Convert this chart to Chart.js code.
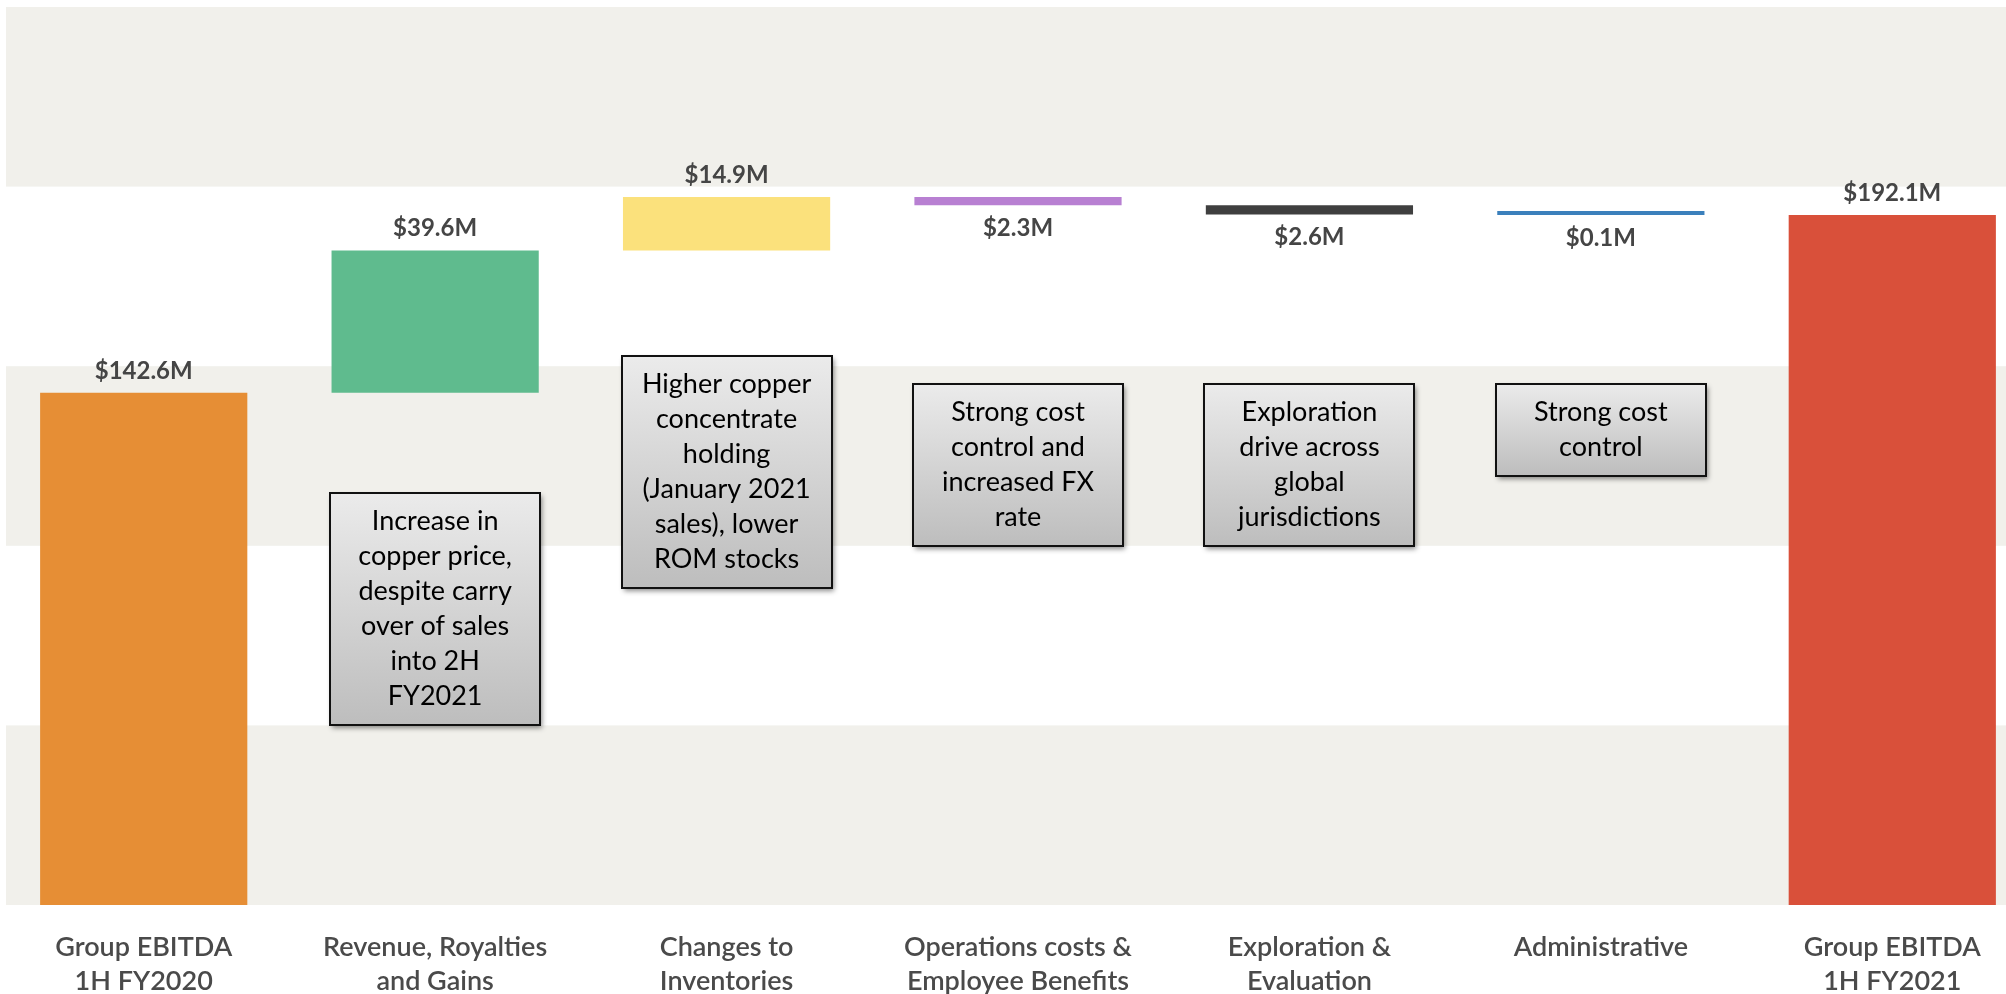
<!DOCTYPE html>
<html><head><meta charset="utf-8">
<script src="https://cdn.jsdelivr.net/npm/chart.js@4.4.0/dist/chart.umd.min.js"></script>
<style>
html,body{margin:0;padding:0;background:#fff;overflow:hidden;width:2006px;height:994px;}
#wrap{position:absolute;left:-2px;top:0;width:2040px;height:994px;}
</style></head><body>
<div id="wrap"><canvas id="c"></canvas></div>
<script>
// ---- data ----
const categories = [
  ["Group EBITDA", "1H FY2020"],
  ["Revenue, Royalties", "and Gains"],
  ["Changes to", "Inventories"],
  ["Operations costs &", "Employee Benefits"],
  ["Exploration &", "Evaluation"],
  ["Administrative"],
  ["Group EBITDA", "1H FY2021"]
];
const openingValue = 142.6;
const changes = [39.6, 14.9, -2.3, -2.6, -0.1];
const closingValue = 192.1;
const yTicks = [0, 50, 100, 150, 200, 250];

const noteTexts = [
  null,
  ["Increase in", "copper price,", "despite carry", "over of sales", "into 2H", "FY2021"],
  ["Higher copper", "concentrate", "holding", "(January 2021", "sales), lower", "ROM stocks"],
  ["Strong cost", "control and", "increased FX", "rate"],
  ["Exploration", "drive across", "global", "jurisdictions"],
  ["Strong cost", "control"],
  null
];

// ---- styles / layout ----
const barColors = ["#E68E35", "#5FBB8E", "#FBE17C", "#B880D2", "#3F3F3F", "#3B80BC", "#D9503A"];
const noteTopValue = [null, 114.7, 152.8, 145, 145, 145, null];
const bandColor = "#F1F0EB";

// floating ranges built from the values
const amounts = [openingValue, ...changes, closingValue];
const ranges = [];
let running = openingValue;
ranges.push([0, openingValue]);
changes.forEach(c => { ranges.push([running, running + c]); running += c; });
ranges.push([0, closingValue]);

const bandsPlugin = {
  id: 'bands',
  beforeDraw(chart) {
    const {ctx, scales: {y}} = chart;
    ctx.save();
    ctx.fillStyle = bandColor;
    for (let i = 0; i + 1 < yTicks.length; i += 2) {
      const y0 = y.getPixelForValue(yTicks[i]);
      const y1 = y.getPixelForValue(yTicks[i + 1]);
      ctx.fillRect(8, y1, chart.width - 8, y0 - y1);
    }
    ctx.restore();
  }
};

const labelsPlugin = {
  id: 'valueLabels',
  afterDatasetsDraw(chart) {
    const {ctx} = chart;
    const meta = chart.getDatasetMeta(0);
    ctx.save();
    ctx.font = '700 24px Lato';
    ctx.fillStyle = '#454545';
    ctx.textAlign = 'center';
    ctx.textBaseline = 'middle';
    meta.data.forEach((bar, i) => {
      const v = amounts[i];
      const top = Math.min(bar.y, bar.base);
      const bottom = Math.max(bar.y, bar.base);
      const txt = '$' + Math.abs(v).toFixed(1) + 'M';
      if (v >= 0) ctx.fillText(txt, bar.x, top - 22);
      else ctx.fillText(txt, bar.x, bottom + 23);
    });
    ctx.restore();
  }
};

const notesPlugin = {
  id: 'notes',
  afterDraw(chart) {
    const {ctx, scales: {x, y}} = chart;
    const lineH = 35, padV = 11, w = 210;
    ctx.save();
    noteTexts.forEach((lines, i) => {
      if (!lines) return;
      const cx = x.getPixelForValue(i);
      const top = Math.round(y.getPixelForValue(noteTopValue[i]));
      const h = lines.length * lineH + padV * 2;
      const left = Math.round(cx - w / 2);
      const g = ctx.createLinearGradient(0, top, 0, top + h);
      g.addColorStop(0, '#EBEBEB');
      g.addColorStop(1, '#BDBDBD');
      ctx.save();
      ctx.shadowColor = 'rgba(0,0,0,0.45)';
      ctx.shadowBlur = 5;
      ctx.shadowOffsetX = 2;
      ctx.shadowOffsetY = 3;
      ctx.fillStyle = g;
      ctx.fillRect(left, top, w, h);
      ctx.restore();
      ctx.lineWidth = 2;
      ctx.strokeStyle = '#111';
      ctx.strokeRect(left, top, w, h);
      ctx.fillStyle = '#000';
      ctx.font = '400 27px Lato';
      ctx.textAlign = 'center';
      ctx.textBaseline = 'middle';
      lines.forEach((ln, k) => ctx.fillText(ln, cx, top + padV + lineH * k + lineH / 2));
    });
    ctx.restore();
  }
};

new Chart(document.getElementById('c'), {
  type: 'bar',
  data: {
    labels: categories,
    datasets: [{
      data: ranges,
      backgroundColor: barColors,
      borderWidth: 0,
      barPercentage: 0.711,
      categoryPercentage: 1.0,
      minBarLength: 4
    }]
  },
  options: {
    responsive: true,
    maintainAspectRatio: false,
    animation: false,
    layout: {padding: {top: 7, left: 0, right: 0, bottom: 0}},
    plugins: {legend: {display: false}, tooltip: {enabled: false}},
    scales: {
      y: {display: false, min: 0, max: 250},
      x: {
        grid: {display: false, drawTicks: false},
        border: {display: false},
        ticks: {
          padding: 25,
          color: '#4A4A4A',
          font: {family: 'Lato', size: 27, weight: '600', lineHeight: 1.26},
          maxRotation: 0, autoSkip: false
        },
        afterFit(scale) { scale.height = 89; }
      }
    }
  },
  plugins: [bandsPlugin, labelsPlugin, notesPlugin]
});
</script>
</body></html>
